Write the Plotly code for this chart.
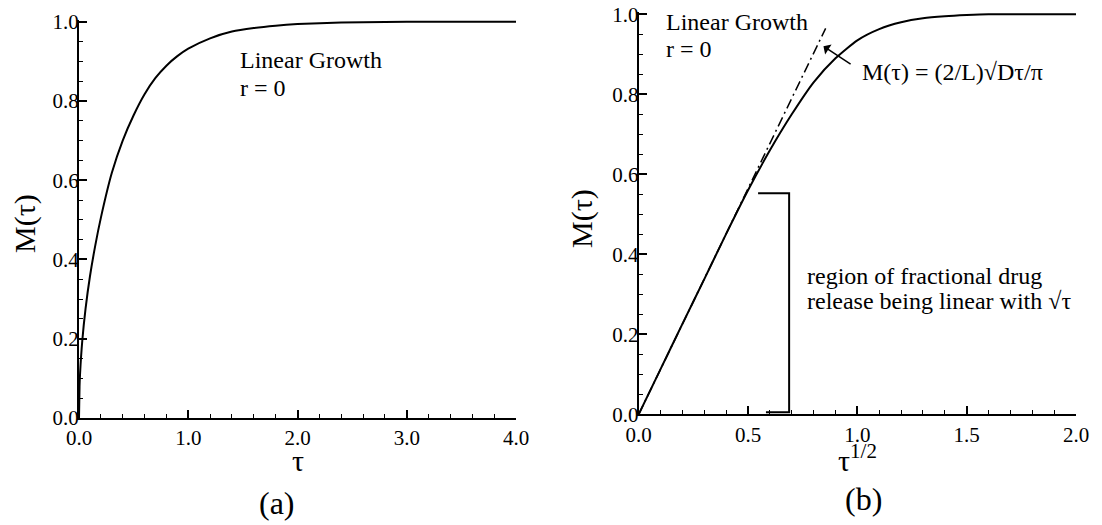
import plotly.graph_objects as go

# ---- data ----
# (a) M(tau) against tau
tau_a = [0.0, 0.005, 0.01, 0.03, 0.06, 0.1, 0.15, 0.2, 0.3, 0.4, 0.5, 0.6, 0.7, 0.8,
         0.9, 1.0, 1.2, 1.4, 1.6, 1.8, 2.0, 2.4, 2.8, 3.2, 3.6, 4.0]
M_a = [0.0, 0.08, 0.113, 0.195, 0.276, 0.357, 0.437, 0.505, 0.618, 0.700, 0.764,
       0.817, 0.858, 0.889, 0.913, 0.932, 0.958, 0.975, 0.984, 0.990, 0.994,
       0.998, 0.999, 1.0, 1.0, 1.0]

# (b) M(tau) against tau^(1/2)
sqrt_tau_b = [0.0, 0.1, 0.2, 0.3, 0.4, 0.5, 0.6, 0.7, 0.8, 0.9, 1.0, 1.1, 1.2, 1.3,
              1.4, 1.5, 1.6, 1.8, 2.0]
M_b = [0.0, 0.113, 0.226, 0.338, 0.451, 0.560, 0.660, 0.750, 0.830, 0.890, 0.935,
       0.963, 0.980, 0.990, 0.995, 0.998, 1.0, 1.0, 1.0]

# short-time asymptote (dash-dot line) in panel (b)
asym_x = [0.0, 0.855]
asym_y = [0.0, 0.965]

# bracket marking the linear region in panel (b)
bracket_x = [0.546, 0.688, 0.688, 0.582]
bracket_y = [0.5525, 0.5525, 0.005, 0.005]

x_ticks_a = [0.0, 1.0, 2.0, 3.0, 4.0]
x_ticks_b = [0.0, 0.5, 1.0, 1.5, 2.0]
y_ticks = [0.0, 0.2, 0.4, 0.6, 0.8, 1.0]

# ---- layout helpers ----
OFF = 8  # page body margin
W, H = 1102 - OFF, 525 - OFF
FONT = "Liberation Serif, Times New Roman, Times, serif"


def px(x):
    return (x - OFF) / W


def py(y):
    return (H - (y - OFF)) / H


fig = go.Figure()

fig.add_trace(go.Scatter(x=tau_a, y=M_a, mode="lines", line=dict(color="black", width=2, shape="spline", smoothing=0.6),
                         xaxis="x", yaxis="y", showlegend=False, hoverinfo="skip"))
fig.add_trace(go.Scatter(x=sqrt_tau_b, y=M_b, mode="lines", line=dict(color="black", width=2, shape="spline", smoothing=0.6),
                         xaxis="x2", yaxis="y2", showlegend=False, hoverinfo="skip"))
fig.add_trace(go.Scatter(x=asym_x, y=asym_y, mode="lines", line=dict(color="black", width=1.5, dash="10px,4px,2px,4px"),
                         xaxis="x2", yaxis="y2", showlegend=False, hoverinfo="skip"))
fig.add_trace(go.Scatter(x=bracket_x, y=bracket_y, mode="lines", line=dict(color="black", width=2),
                         xaxis="x2", yaxis="y2", showlegend=False, hoverinfo="skip"))

axis_common = dict(
    showgrid=False, zeroline=False, showline=True, linecolor="black", linewidth=2,
    ticks="inside", ticklen=8, tickwidth=2, tickcolor="black", automargin=False,
    ticklabeloverflow="allow",
    tickfont=dict(family=FONT, size=21, color="black"), tickformat=".1f",
)

fig.update_layout(
    template="none",
    width=W, height=H, margin=dict(l=0, r=0, t=0, b=0, pad=0),
    paper_bgcolor="white", plot_bgcolor="white",
    font=dict(family=FONT, color="black"),
    xaxis=dict(domain=[px(79), px(516)], range=[0, 4.0], tickvals=x_ticks_a, anchor="y",
               minor=dict(dtick=0.2, tick0=0, ticks="inside", ticklen=4, tickwidth=1, tickcolor="black", showgrid=False),
               **axis_common),
    yaxis=dict(domain=[py(418), py(19.7)], range=[0, 1.005], tickvals=y_ticks, anchor="x", ticklabelstandoff=-6,
               minor=dict(dtick=0.05, tick0=0, ticks="inside", ticklen=4, tickwidth=1, tickcolor="black", showgrid=False),
               **axis_common),
    xaxis2=dict(domain=[px(638.7), px(1076)], range=[0, 2.0], tickvals=x_ticks_b, anchor="y2",
                minor=dict(dtick=0.1, tick0=0, ticks="inside", ticklen=4, tickwidth=1, tickcolor="black", showgrid=False),
                **axis_common),
    yaxis2=dict(domain=[py(414.3), py(12.3)], range=[0, 1.005], tickvals=y_ticks, anchor="x2", ticklabelstandoff=-6,
                minor=dict(dtick=0.05, tick0=0, ticks="inside", ticklen=4, tickwidth=1, tickcolor="black", showgrid=False),
                **axis_common),
)

ann = []
txt = dict(family=FONT, size=24, color="black")
# panel (a) labels
ann.append(dict(text="Linear Growth", x=1.455, y=0.903, xref="x", yref="y", xanchor="left", yanchor="middle",
                showarrow=False, font=txt))
ann.append(dict(text="r = 0", x=1.455, y=0.832, xref="x", yref="y", xanchor="left", yanchor="middle",
                showarrow=False, font=txt))
# panel (b) labels
ann.append(dict(text="Linear Growth", x=0.116, y=0.981, xref="x2", yref="y2", xanchor="left", yanchor="middle",
                showarrow=False, font=txt))
ann.append(dict(text="r = 0", x=0.116, y=0.914, xref="x2", yref="y2", xanchor="left", yanchor="middle",
                showarrow=False, font=txt))
ann.append(dict(text="M(τ) = (2/L)√Dτ/π", x=1.012, y=0.856, xref="x2", yref="y2", xanchor="left", yanchor="middle",
                showarrow=False, font=txt))
ann.append(dict(text="", x=0.845, y=0.92, ax=0.976, ay=0.873, xref="x2", yref="y2", axref="x2", ayref="y2",
                showarrow=True, arrowhead=1, arrowsize=1.3, arrowwidth=1.5, arrowcolor="black"))
ann.append(dict(text="region of fractional drug", x=0.761, y=0.345, xref="x2", yref="y2", xanchor="left",
                yanchor="middle", showarrow=False, font=txt))
ann.append(dict(text="release being linear with √τ", x=0.761, y=0.283, xref="x2", yref="y2", xanchor="left",
                yanchor="middle", showarrow=False, font=txt))
# axis titles
title_font = dict(family=FONT, size=30, color="black")
ann.append(dict(text="M(τ)", x=px(25), y=py(224), xref="paper", yref="paper", textangle=-90,
                xanchor="center", yanchor="middle", showarrow=False, font=title_font))
ann.append(dict(text="M(τ)", x=px(582), y=py(219), xref="paper", yref="paper", textangle=-90,
                xanchor="center", yanchor="middle", showarrow=False, font=title_font))
ann.append(dict(text="τ", x=px(298), y=py(460), xref="paper", yref="paper",
                xanchor="center", yanchor="middle", showarrow=False, font=title_font))
ann.append(dict(text="τ<sup style='font-size:19px'>1/2</sup>", x=px(857), y=py(458), xref="paper", yref="paper",
                xanchor="center", yanchor="middle", showarrow=False, font=title_font))
# panel captions
cap_font = dict(family=FONT, size=32, color="black")
ann.append(dict(text="(a)", x=px(277), y=py(503), xref="paper", yref="paper",
                xanchor="center", yanchor="middle", showarrow=False, font=cap_font))
ann.append(dict(text="(b)", x=px(863), y=py(499), xref="paper", yref="paper",
                xanchor="center", yanchor="middle", showarrow=False, font=cap_font))
fig.update_layout(annotations=ann)

fig.write_html("out.html")
